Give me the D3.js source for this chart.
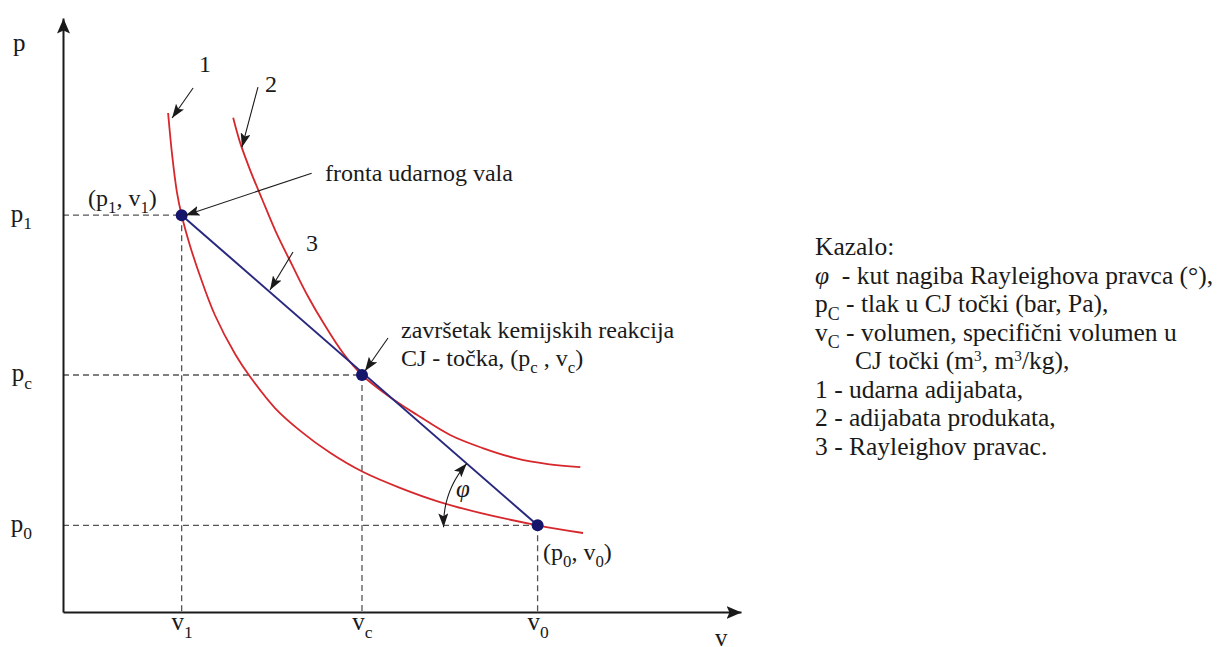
<!DOCTYPE html>
<html>
<head>
<meta charset="utf-8">
<script src="https://cdn.jsdelivr.net/npm/d3@7"></script>
<style>
  body { margin: 0; background: #fff; }
  svg text { font-family: "Liberation Serif", "Times New Roman", serif; fill: #1a1a1a; white-space: pre; }
</style>
</head>
<body>
<div id="chart"></div>
<script>
// state points (v, p) in chart units
const vTicks = [1.75, 4.41, 7.0];
const pTicks = [6.68, 3.99, 1.46];
const vTickLabels = [["v", "1"], ["v", "c"], ["v", "0"]];
const pTickLabels = [["p", "1"], ["p", "c"], ["p", "0"]];

// 1 - udarna adijabata, [v, p]
const shockAdiabat = [
  [1.55, 8.40], [1.61, 7.69], [1.68, 7.07], [1.75, 6.68], [1.87, 6.18],
  [2.02, 5.66], [2.24, 5.00], [2.54, 4.34], [2.76, 3.96], [3.13, 3.43],
  [3.50, 3.05], [3.94, 2.68], [4.42, 2.36], [4.97, 2.09], [5.56, 1.85],
  [6.15, 1.67], [7.00, 1.46], [7.67, 1.33]
];
// 2 - adijabata produkata, [v, p]
const productAdiabat = [
  [2.51, 8.32], [2.61, 7.91], [2.76, 7.44], [2.94, 6.94], [3.14, 6.40],
  [3.38, 5.84], [3.61, 5.32], [3.86, 4.83], [4.13, 4.36], [4.41, 3.99],
  [4.82, 3.62], [5.22, 3.32], [5.71, 2.98], [6.19, 2.76], [6.67, 2.59],
  [7.15, 2.49], [7.63, 2.44]
];
// 3 - Rayleighov pravac
const rayleigh = [[1.75, 6.68], [7.0, 1.46]];
const statePoints = [[1.75, 6.68], [4.41, 3.99], [7.0, 1.46]];

const legendLines = [
  [["Kazalo:"]],
  [["φ", "it"], ["  - kut nagiba Rayleighova pravca (°),"]],
  [["p"], ["C", "sub"], [" - tlak u CJ točki (bar, Pa),"]],
  [["v"], ["C", "sub"], [" - volumen, specifični volumen u"]],
  [["CJ točki (m"], ["3", "sup"], [", m"], ["3", "sup"], ["/kg),"]],
  [["1 - udarna adijabata,"]],
  [["2 - adijabata produkata,"]],
  [["3 - Rayleighov pravac."]]
];

const width = 1221, height = 647;
const red = "#d6282c", navy = "#28287f", ink = "#1a1a1a";

const svg = d3.select("#chart").append("svg")
  .attr("width", width)
  .attr("height", height);

const x = d3.scaleLinear().domain([0, 10]).range([63, 741]);
const y = d3.scaleLinear().domain([0, 10]).range([612, 18]);

const defs = svg.append("defs");
defs.append("marker")
  .attr("id", "axisArrow")
  .attr("markerUnits", "userSpaceOnUse")
  .attr("markerWidth", 17).attr("markerHeight", 13)
  .attr("refX", 15).attr("refY", 6.5)
  .attr("orient", "auto")
  .append("path").attr("d", "M0,0L15,6.5L0,13L3,6.5Z").attr("fill", ink);
defs.append("marker")
  .attr("id", "arr")
  .attr("markerUnits", "userSpaceOnUse")
  .attr("markerWidth", 15).attr("markerHeight", 10)
  .attr("refX", 14).attr("refY", 5)
  .attr("orient", "auto-start-reverse")
  .append("path").attr("d", "M0,0L14,5L0,10L3,5Z").attr("fill", ink);

// rich text helper: parts = [[text, style]]
function rich(sel, parts, size) {
  let shift = 0;
  parts.forEach(([t, s]) => {
    const ts = sel.append("tspan").text(t);
    let target = 0;
    if (s === "sub") target = size * 0.3;
    if (s === "sup") target = -size * 0.3;
    if (s === "sub") ts.attr("font-size", size * 0.7);
    if (s === "sup") ts.attr("font-size", size * 0.6);
    if (s === "it") ts.attr("font-style", "italic");
    if (target !== shift) ts.attr("dy", target - shift);
    shift = target;
  });
}

// dashed guides
const guides = svg.append("g")
  .attr("stroke", "#555").attr("stroke-width", 1.3)
  .attr("stroke-dasharray", "6,4").attr("fill", "none");
statePoints.forEach(d => {
  guides.append("line").attr("x1", x(0)).attr("x2", x(d[0])).attr("y1", y(d[1])).attr("y2", y(d[1]));
  guides.append("line").attr("x1", x(d[0])).attr("x2", x(d[0])).attr("y1", y(d[1])).attr("y2", y(0));
});

// axes
const xAxis = svg.append("g")
  .attr("transform", `translate(0,${y(0)})`)
  .call(d3.axisBottom(x).tickValues(vTicks).tickSize(0).tickSizeOuter(0).tickPadding(0));
const yAxis = svg.append("g")
  .attr("transform", `translate(${x(0)},0)`)
  .call(d3.axisLeft(y).tickValues(pTicks).tickSize(0).tickSizeOuter(0).tickPadding(31));

[xAxis, yAxis].forEach(g => {
  g.attr("font-family", null).attr("font-size", 25);
  g.select(".domain").attr("stroke", ink).attr("stroke-width", 2).attr("marker-end", "url(#axisArrow)");
});
xAxis.selectAll(".tick text").each(function(d, i) {
  const t = d3.select(this).text(null).attr("y", 18).attr("dy", null).attr("fill", ink);
  rich(t, [[vTickLabels[i][0]], [vTickLabels[i][1], "sub"]], 25);
});
yAxis.selectAll(".tick text").each(function(d, i) {
  const t = d3.select(this).text(null).attr("dy", "0.24em").attr("fill", ink);
  rich(t, [[pTickLabels[i][0]], [pTickLabels[i][1], "sub"]], 25);
});

svg.append("text").attr("x", 13).attr("y", 51).attr("font-size", 25).text("p");
svg.append("text").attr("x", 715).attr("y", 646).attr("font-size", 25).text("v");

// curves
const line = d3.line().x(d => x(d[0])).y(d => y(d[1])).curve(d3.curveCatmullRom.alpha(0.5));
svg.append("path").datum(shockAdiabat)
  .attr("d", line).attr("fill", "none").attr("stroke", red).attr("stroke-width", 1.8);
svg.append("path").datum(productAdiabat)
  .attr("d", line).attr("fill", "none").attr("stroke", red).attr("stroke-width", 1.8);
svg.append("path").datum(rayleigh)
  .attr("d", d3.line().x(d => x(d[0])).y(d => y(d[1])))
  .attr("fill", "none").attr("stroke", navy).attr("stroke-width", 2);

svg.append("g").selectAll("circle")
  .data(statePoints)
  .enter()
  .append("circle")
  .attr("cx", d => x(d[0]))
  .attr("cy", d => y(d[1]))
  .attr("r", 6)
  .attr("fill", "#15156b");

// annotation arrows
const P1 = [x(statePoints[0][0]), y(statePoints[0][1])];
const PC = [x(statePoints[1][0]), y(statePoints[1][1])];
const P0 = [x(statePoints[2][0]), y(statePoints[2][1])];
const S1 = [x(shockAdiabat[0][0]), y(shockAdiabat[0][1])];
const S2 = [x(productAdiabat[1][0]), y(productAdiabat[1][1])];

const arrows = [
  [[S1[0] + 25, S1[1] - 25], [S1[0] + 4, S1[1] + 5]],
  [[S2[0] + 18, S2[1] - 55], [S2[0] + 2, S2[1] + 5]],
  [[P1[0] + 130, P1[1] - 42], [P1[0] + 4, P1[1]]],
  [[293, 252], [270, 290]],
  [[PC[0] + 26, PC[1] - 37], [PC[0] + 3, PC[1] - 4]]
];
svg.append("g").selectAll("line")
  .data(arrows)
  .enter()
  .append("line")
  .attr("x1", d => d[0][0]).attr("y1", d => d[0][1])
  .attr("x2", d => d[1][0]).attr("y2", d => d[1][1])
  .attr("stroke", ink).attr("stroke-width", 1.1)
  .attr("marker-end", "url(#arr)");

// angle phi
const theta = Math.atan2(P1[1] - P0[1], P1[0] - P0[0]);
const r = 94;
const a0 = [P0[0] + r * Math.cos(theta), P0[1] + r * Math.sin(theta)];
const a1 = [P0[0] - r, P0[1] + 2];
svg.append("path")
  .attr("d", `M${a0[0]},${a0[1]}A${r},${r} 0 0 0 ${a1[0]},${a1[1]}`)
  .attr("fill", "none").attr("stroke", ink).attr("stroke-width", 1.1)
  .attr("marker-start", "url(#arr)").attr("marker-end", "url(#arr)");
svg.append("text").attr("x", 456).attr("y", 497).attr("font-size", 25)
  .attr("font-style", "italic").text("φ");

// text labels
const labels = [
  { x: 199, y: 72, parts: [["1"]] },
  { x: 265, y: 92, parts: [["2"]] },
  { x: 306, y: 251, parts: [["3"]] },
  { x: 88, y: 206, parts: [["(p"], ["1", "sub"], [", v"], ["1", "sub"], [")"]] },
  { x: 543, y: 560, parts: [["(p"], ["0", "sub"], [", v"], ["0", "sub"], [")"]] },
  { x: 325, y: 181, parts: [["fronta udarnog vala"]] },
  { x: 401, y: 338, parts: [["završetak kemijskih reakcija"]] },
  { x: 401, y: 366, parts: [["CJ - točka, (p"], ["c", "sub"], [" , v"], ["c", "sub"], [")"]] }
];
labels.forEach(l => {
  const t = svg.append("text").attr("x", l.x).attr("y", l.y).attr("font-size", 24);
  rich(t, l.parts, 24);
});

// legend
legendLines.forEach((parts, i) => {
  const t = svg.append("text")
    .attr("x", i === 4 ? 855 : 815)
    .attr("y", 255 + i * 28.5)
    .attr("font-size", 25.5);
  rich(t, parts, 25.5);
});
</script>
</body>
</html>
